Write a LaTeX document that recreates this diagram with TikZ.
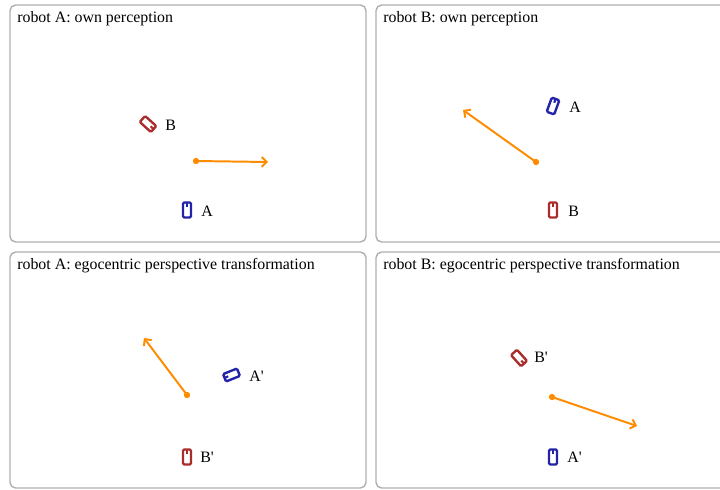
\documentclass[tikz,border=0pt]{standalone}
\usepackage{fontspec}
\setmainfont{Liberation Serif}
\usetikzlibrary{arrows.meta}
\definecolor{acolor}{RGB}{35,35,170}
\definecolor{bcolor}{RGB}{170,45,45}
\definecolor{movecolor}{RGB}{255,140,0}
\definecolor{framecolor}{RGB}{175,175,175}

\begin{document}
\begin{tikzpicture}[x=0.025cm, y=-0.025cm,
  panel/.style={draw=framecolor, line width=1pt, rounded corners=4pt},
  title/.style={anchor=west, inner sep=0pt, font=\fontsize{11.3}{13}\selectfont},
  rlabel/.style={anchor=west, inner sep=0pt, font=\fontsize{11.3}{13}\selectfont},
  startdot/.style={circle, fill=movecolor, inner sep=0pt, minimum size=4.5pt},
  move/.style={movecolor, line width=1.4pt, -{Straight Barb[length=3.5pt,width=7pt]}},
  robot/.pic={
    \draw[line width=1.7pt, rounded corners=0.9pt] (-4,-7.5) rectangle (4,7.5);
    \draw[line width=1.5pt] (0,-7.5) -- (0,-3.5);
  },
]
\useasboundingbox (0,0) rectangle (720,489);
\clip (0,0) rectangle (720,489);

% ---------- panels ----------
\draw[panel] (10,5) rectangle (366,242);
\draw[panel] (376,5) rectangle (735,242);
\draw[panel] (10,252) rectangle (366,488);
\draw[panel] (376,252) rectangle (735,488);

\node[title] (tla) at (17,18.5) {robot A: own perception};
\node[title] (tlb) at (383,18.5) {robot B: own perception};
\node[title] (bla) at (17,265.5) {robot A: egocentric perspective transformation};
\node[title] (blb) at (383,265.5) {robot B: egocentric perspective transformation};

% ---------- robot A: own perception ----------
\pic[bcolor, rotate=-132] at (148,124) {robot};
\node[rlabel] (aownb) at (165,125.5) {B};
\pic[acolor] at (187,210) {robot};
\node[rlabel] (aowna) at (201,211.5) {A};
\node[startdot] (amove) at (196,161) {};
\coordinate (amoveend) at (268,162);
\draw[move] (amove.center) -- (amoveend);

% ---------- robot B: own perception ----------
\pic[acolor, rotate=-20] at (553,106) {robot};
\node[rlabel] (bowna) at (569,107.5) {A};
\pic[bcolor] at (553,210) {robot};
\node[rlabel] (bownb) at (568,211.5) {B};
\node[startdot] (bmove) at (536,162) {};
\coordinate (bmoveend) at (463,110);
\draw[move] (bmove.center) -- (bmoveend);

% ---------- robot A: transformed ----------
\pic[acolor, rotate=112] at (231.5,375) {robot};
\node[rlabel] (aegoa) at (249,376.5) {A\textquotesingle};
\pic[bcolor] at (187,457) {robot};
\node[rlabel] (aegob) at (200,457.5) {B\textquotesingle};
\node[startdot] (aegomove) at (187,395) {};
\coordinate (aegomoveend) at (144,338);
\draw[move] (aegomove.center) -- (aegomoveend);

% ---------- robot B: transformed ----------
\pic[bcolor, rotate=-138] at (519,358) {robot};
\node[rlabel] (begob) at (534,357.5) {B\textquotesingle};
\pic[acolor] at (553,457) {robot};
\node[rlabel] (begoa) at (567,457.5) {A\textquotesingle};
\node[startdot] (begomove) at (552,397) {};
\coordinate (begomoveend) at (637,426);
\draw[move] (begomove.center) -- (begomoveend);

\end{tikzpicture}
\end{document}
